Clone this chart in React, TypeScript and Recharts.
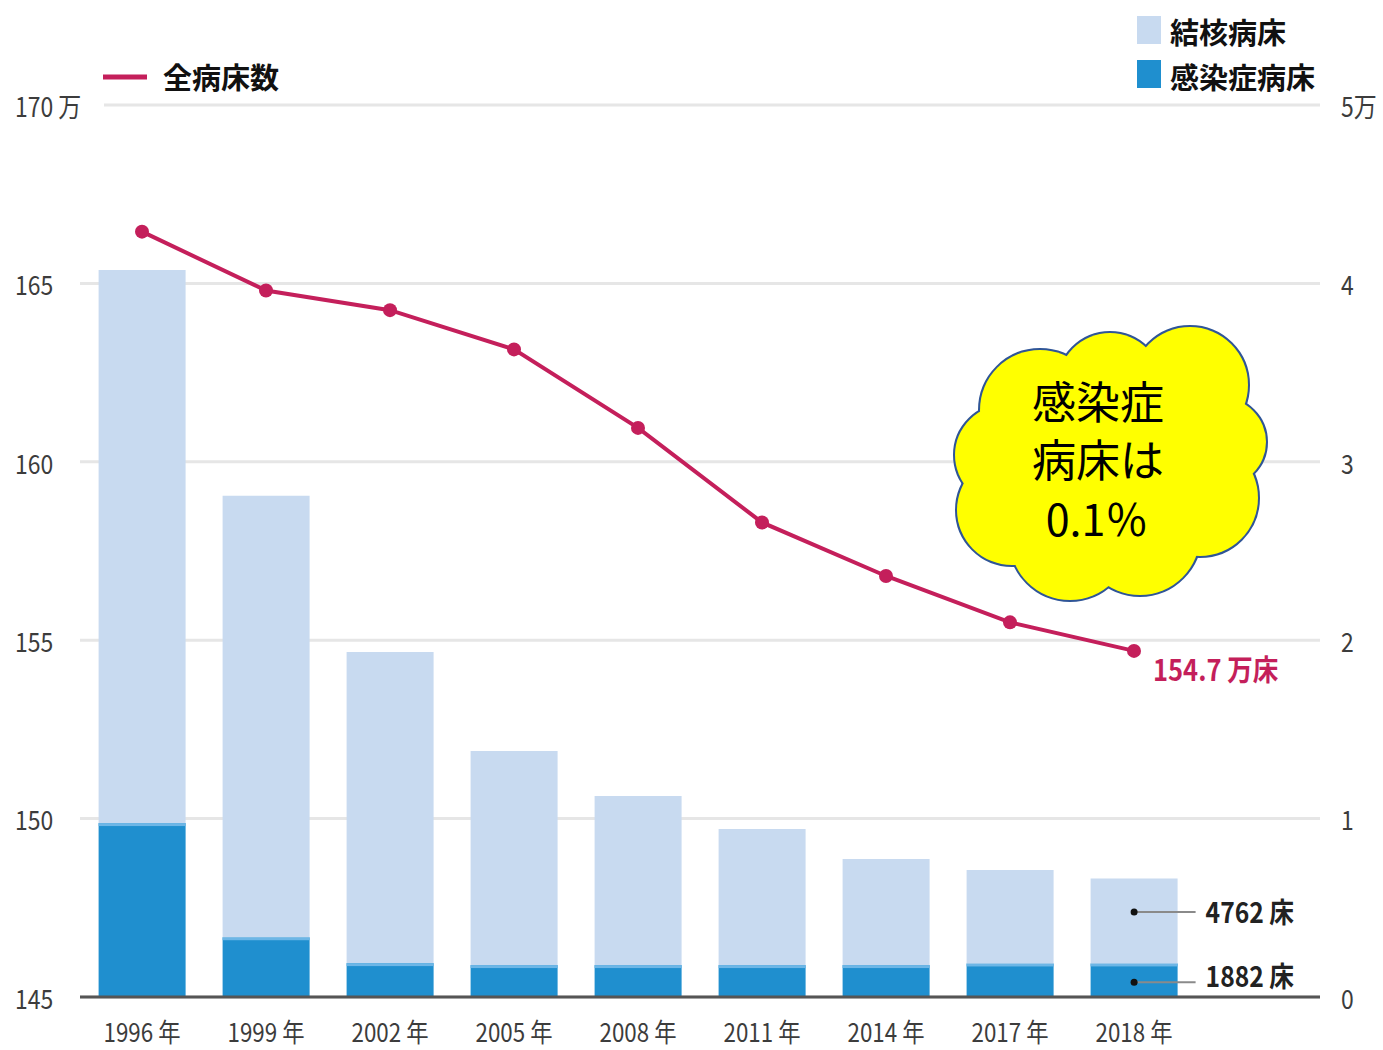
import React from 'react';
import { ComposedChart, Bar, Line, XAxis, YAxis, CartesianGrid, LabelList } from 'recharts';

// ---- data ----
const years = ['1996 年', '1999 年', '2002 年', '2005 年', '2008 年', '2011 年', '2014 年', '2017 年', '2018 年'];
const totalBeds = [166.45, 164.8, 164.25, 163.15, 160.95, 158.3, 156.8, 155.5, 154.7]; // 万床
const tbBeds = [31000, 24750, 17440, 12000, 9480, 7630, 5950, 5240, 4762]; // 結核病床
const infBeds = [9750, 3350, 1900, 1790, 1790, 1790, 1790, 1880, 1882]; // 感染症病床
const leftTicks = [145, 150, 155, 160, 165, 170];
const rightTicks = [0, 10000, 20000, 30000, 40000, 50000];
const rightTickLabels = ['0', '1', '2', '3', '4', '5万'];

const data: any[] = years.map((y, i) => ({ year: y, total: totalBeds[i], tb: tbBeds[i], inf: infBeds[i] }));
data.push({ year: '', total: null, tb: null, inf: null });

const LINE = '#c41f5b';
const LIGHT = '#c8daf0';
const DARK = '#1f8fcf';
const DARK_EDGE = '#6db6e6';
const FONT = '"Noto Sans CJK JP", "Noto Sans", sans-serif';
const TICK = '#3c3c3c';

const LeftTick = (props: any) => {
  const { y, payload } = props;
  const label = payload.value === 170 ? '170 万' : String(payload.value);
  return (
    <g>
      {payload.value === 170 && <rect x={6} y={y - 18} width={98} height={36} fill="#fff" />}
      <text transform={`translate(15,${y}) scale(0.85,1)`} dominantBaseline="central" fontSize={27} fill={TICK} fontFamily={FONT}>
        {label}
      </text>
    </g>
  );
};

const RightTick = (props: any) => {
  const { y, payload, index } = props;
  const i = rightTicks.indexOf(payload.value);
  return (
    <text transform={`translate(1341,${y}) scale(0.85,1)`} dominantBaseline="central" fontSize={27} fill={TICK} fontFamily={FONT}>
      {rightTickLabels[i >= 0 ? i : index]}
    </text>
  );
};

const XTick = (props: any) => {
  const { x, payload } = props;
  return (
    <text transform={`translate(${x},1031) scale(0.86,1)`} textAnchor="middle" dominantBaseline="central" fontSize={26} fill={TICK} fontFamily={FONT}>
      {payload.value}
    </text>
  );
};

const lastIdx = years.length - 1;

const TotalLabel = (props: any) => {
  const { x, y, index, value } = props;
  if (index !== lastIdx) return null;
  return (
    <text transform={`translate(${x + 19},${y + 17}) scale(0.88,1)`} dominantBaseline="central" fontSize={29} fontWeight="bold" fill={LINE} fontFamily={FONT}>
      {`${value} 万床`}
    </text>
  );
};

const makeBarLabel = (dy: number, textDy: number) => (props: any) => {
  const { x, y, width, height, index, value } = props;
  if (index !== lastIdx) return null;
  const cx = x + width / 2;
  const cy = y + height / 2 + dy;
  return (
    <g>
      <line x1={cx} y1={cy} x2={x + width + 18} y2={cy} stroke="#8a8a8a" strokeWidth={2} />
      <circle cx={cx} cy={cy} r={3.5} fill="#111" />
      <text transform={`translate(${x + width + 28},${cy + textDy}) scale(0.88,1)`} dominantBaseline="central" fontSize={28} fontWeight="bold" fill="#222" fontFamily={FONT}>
        {`${value} 床`}
      </text>
    </g>
  );
};

const DarkShape = (props: any) => {
  const { x, y, width, height } = props;
  if (!height) return null;
  return (
    <g>
      <rect x={x} y={y} width={width} height={height} fill={DARK} />
      <rect x={x} y={y} width={width} height={Math.min(3, height)} fill={DARK_EDGE} />
    </g>
  );
};

const cloudBumps = [
  [1040, 410, 60],
  [1110, 385, 52],
  [1190, 385, 58],
  [1222, 442, 44],
  [1200, 498, 58],
  [1140, 535, 60],
  [1070, 540, 60],
  [1012, 510, 55],
  [1005, 455, 50],
];

export default function App() {
  return (
    <div style={{ position: 'absolute', left: 0, top: 0, width: 1383, height: 1050, background: '#fff' }}>
      <ComposedChart width={1383} height={1050} data={data} margin={{ top: 105, right: 0, bottom: 0, left: 3 }} barCategoryGap="15%">
        <CartesianGrid yAxisId="left" horizontal vertical={false} stroke="#e6e6e6" strokeWidth={3} />
        <XAxis dataKey="year" height={53} tickLine={false} axisLine={{ stroke: '#555', strokeWidth: 3 }} tick={<XTick />} interval={0} />
        <YAxis yAxisId="left" orientation="left" width={77} domain={[145, 170]} ticks={leftTicks} axisLine={false} tickLine={false} tick={<LeftTick />} interval={0} />
        <YAxis yAxisId="right" orientation="right" width={63} domain={[0, 50000]} ticks={rightTicks} axisLine={false} tickLine={false} tick={<RightTick />} interval={0} />
        <Bar yAxisId="right" dataKey="inf" stackId="s" fill={DARK} shape={<DarkShape />} isAnimationActive={false}>
          <LabelList dataKey="inf" content={makeBarLabel(2, -7)} />
        </Bar>
        <Bar yAxisId="right" dataKey="tb" stackId="s" fill={LIGHT} isAnimationActive={false}>
          <LabelList dataKey="tb" content={makeBarLabel(-9, -1)} />
        </Bar>
        <Line yAxisId="left" dataKey="total" stroke={LINE} strokeWidth={4} dot={{ r: 7, fill: LINE, stroke: LINE, strokeWidth: 0 }} activeDot={false} isAnimationActive={false}>
          <LabelList dataKey="total" content={TotalLabel} />
        </Line>
      </ComposedChart>
      <svg width={1383} height={1050} style={{ position: 'absolute', left: 0, top: 0, pointerEvents: 'none' }}>
        {/* legends */}
        <line x1={103} y1={77} x2={147} y2={77} stroke={LINE} strokeWidth={5} />
        <text x={163} y={76} dominantBaseline="central" fontSize={29} fontWeight="bold" fill="#111" fontFamily={FONT}>全病床数</text>
        <rect x={1137} y={16} width={24} height={28} fill={LIGHT} />
        <text x={1170} y={31} dominantBaseline="central" fontSize={29} fontWeight="bold" fill="#111" fontFamily={FONT}>結核病床</text>
        <rect x={1137} y={60} width={24} height={28} fill={DARK} />
        <text x={1170} y={76} dominantBaseline="central" fontSize={29} fontWeight="bold" fill="#111" fontFamily={FONT}>感染症病床</text>
        {/* cloud callout */}
        <g>
          {cloudBumps.map((c, i) => (
            <circle key={'s' + i} cx={c[0]} cy={c[1]} r={c[2]} fill="#ffff00" stroke="#2f5597" strokeWidth={4} />
          ))}
          {cloudBumps.map((c, i) => (
            <circle key={'f' + i} cx={c[0]} cy={c[1]} r={c[2]} fill="#ffff00" />
          ))}
          <circle cx={1110} cy={462} r={92} fill="#ffff00" />
          <text x={1098} y={400} textAnchor="middle" dominantBaseline="central" fontSize={44} fill="#000" fontFamily={FONT}>感染症</text>
          <text x={1098} y={458} textAnchor="middle" dominantBaseline="central" fontSize={44} fill="#000" fontFamily={FONT}>病床は</text>
          <text x={1097} y={517} textAnchor="middle" dominantBaseline="central" fontSize={43} fill="#000" fontFamily={FONT}>0.1％</text>
        </g>
      </svg>
    </div>
  );
}
